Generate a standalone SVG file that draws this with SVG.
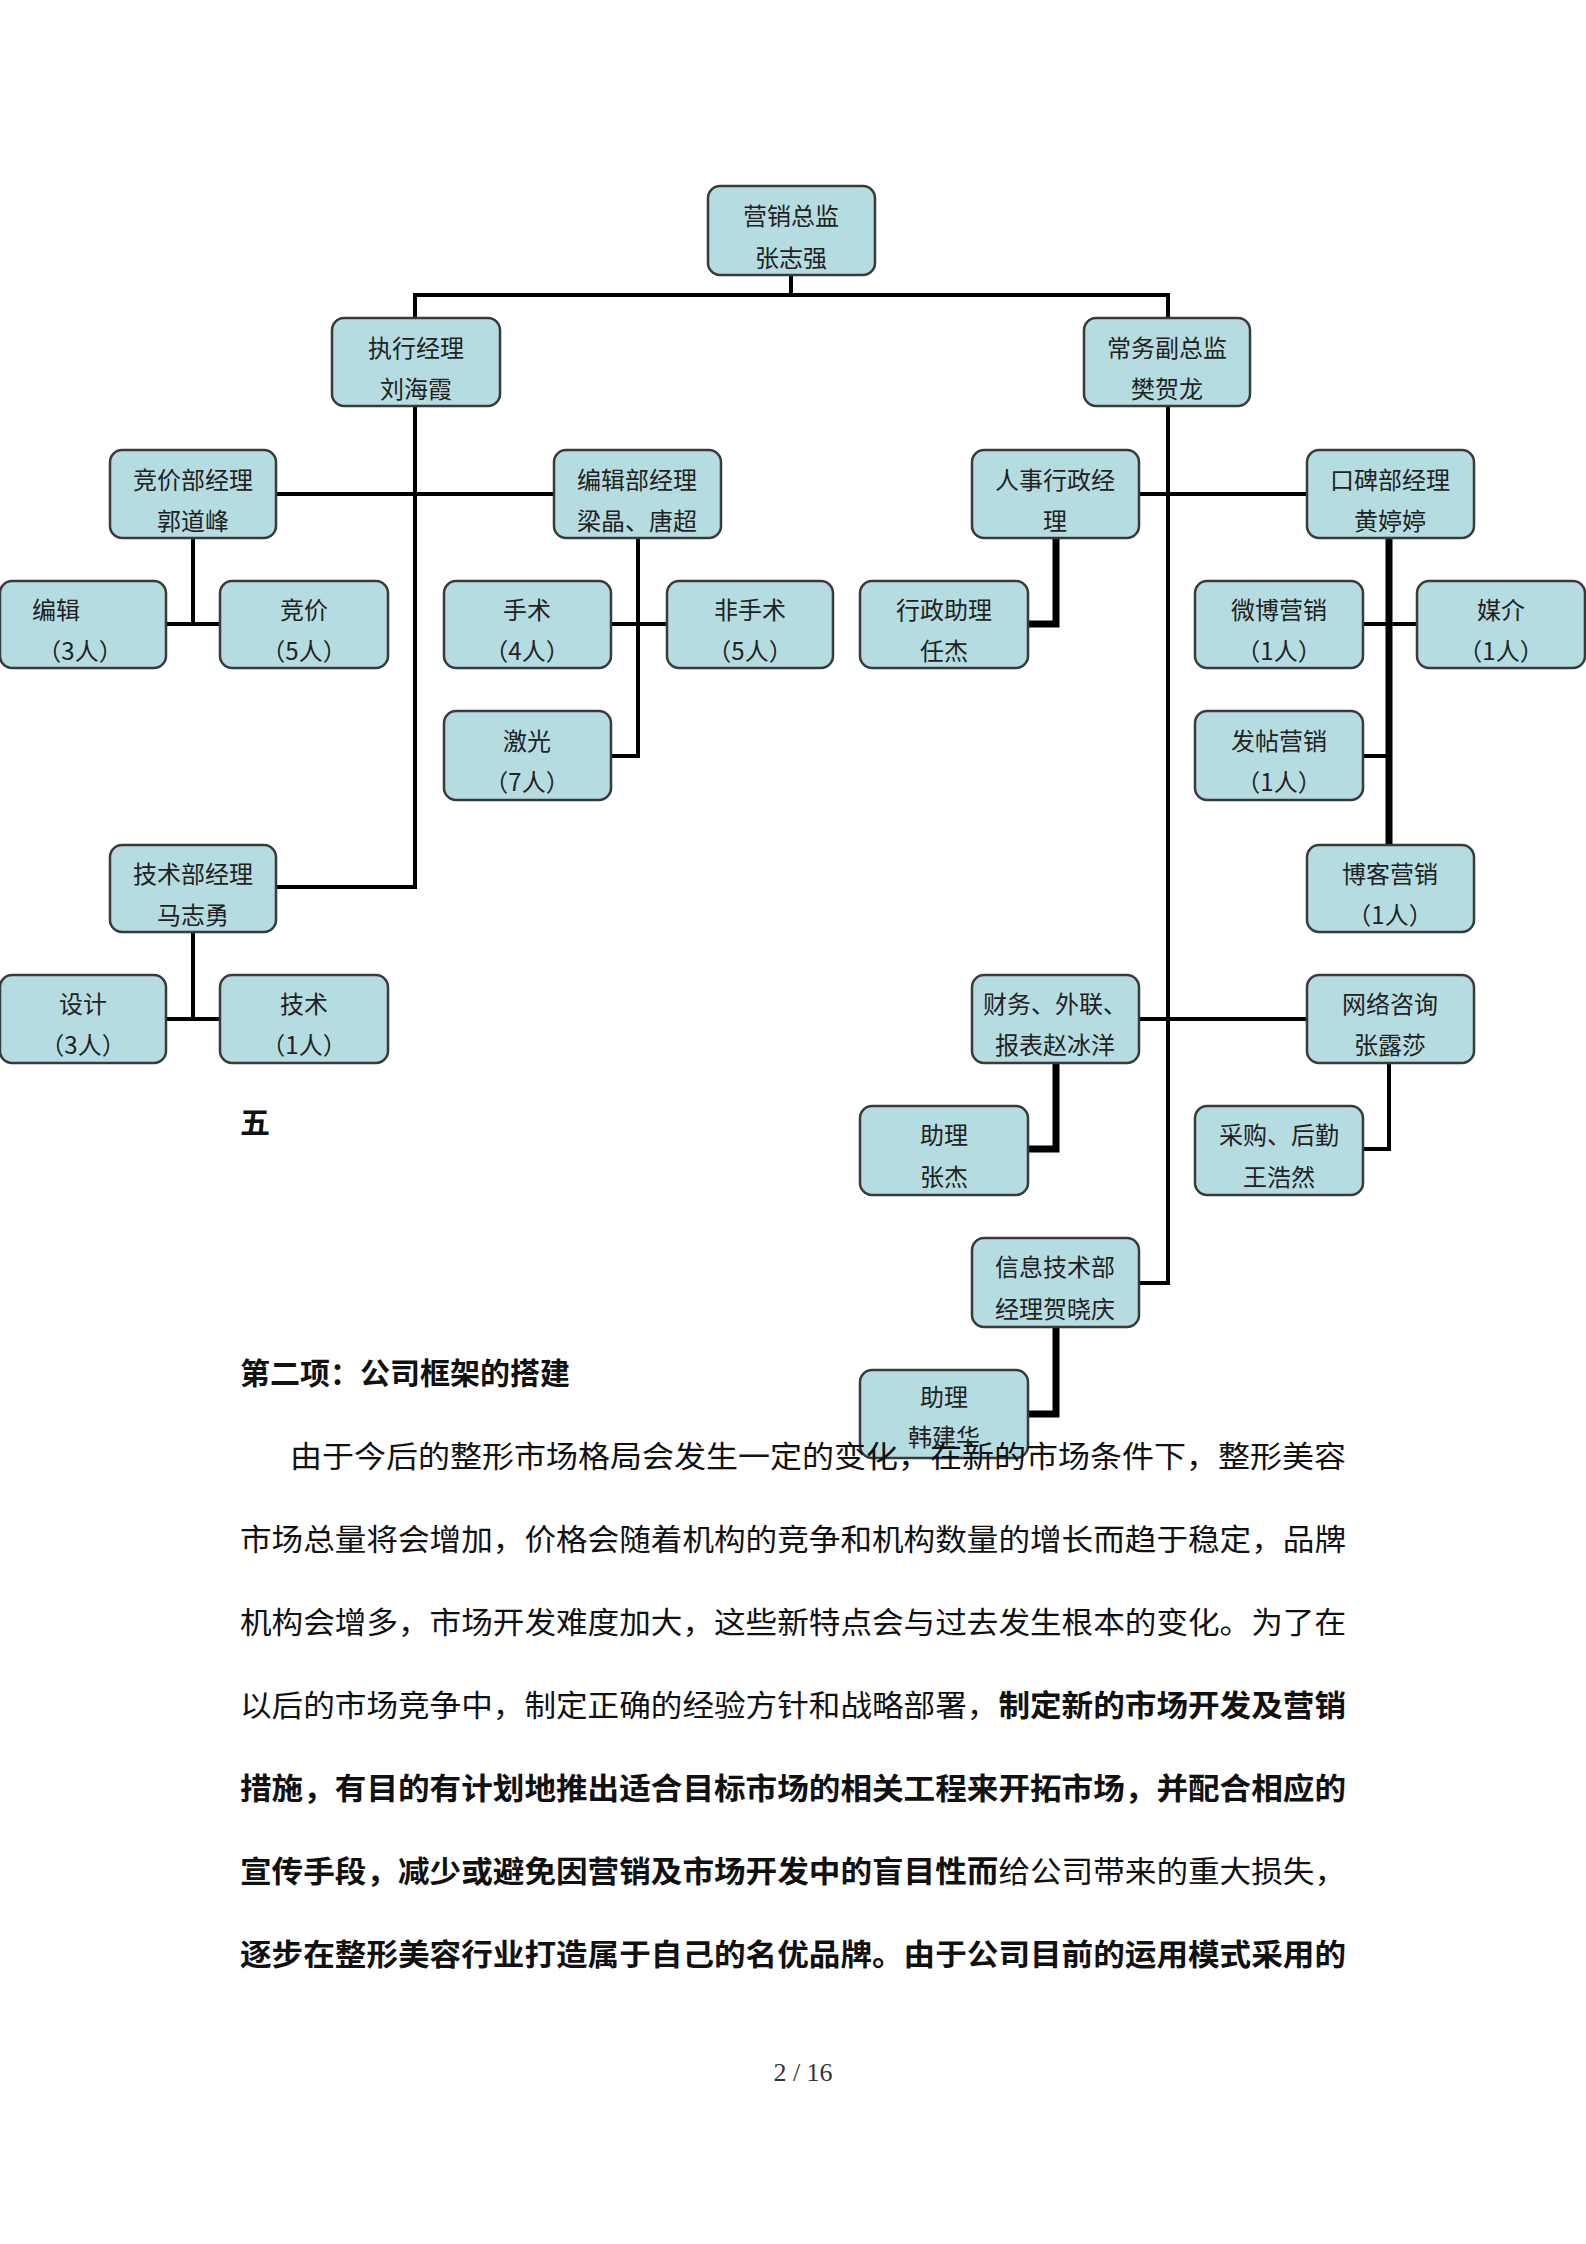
<svg xmlns="http://www.w3.org/2000/svg" width="1586" height="2244" viewBox="0 0 1586 2244">
<style>
.b{fill:#b5dde1;stroke:#3a3a3a;stroke-width:2.5}
.t{font-family:"Noto Sans CJK SC","Noto Sans",sans-serif;font-size:24px;fill:#222;text-anchor:middle}
.c{stroke:#000;stroke-width:4;fill:none}
.ck{stroke:#000;stroke-width:7;fill:none}
.p{font-family:"Noto Sans CJK SC","Noto Sans",sans-serif;font-size:30px;fill:#111}
.pb{font-weight:bold}
</style>
<rect width="1586" height="2244" fill="#fff"/>
<g id="connectors">
<path class="c" d="M791 275V295M415 318V295H1168V318"/>
<path class="c" d="M415 406V887H276"/>
<path class="c" d="M276 494H554"/>
<path class="c" d="M193 538V624M166 624H220"/>
<path class="c" d="M638 538V756H611M611 624H667"/>
<path class="c" d="M193 932V1019M166 1019H220"/>
<path class="c" d="M1168 406V1283H1139"/>
<path class="c" d="M1139 494H1307"/>
<path class="ck" d="M1056 538V624H1028"/>
<path class="ck" d="M1389 538V845"/>
<path class="c" d="M1363 624H1417M1363 756H1389"/>
<path class="c" d="M1139 1019H1307"/>
<path class="ck" d="M1056 1063V1149H1028"/>
<path class="c" d="M1389 1063V1149H1363"/>
<path class="ck" d="M1056 1327V1414H1028"/>
</g>
<g id="n1"><rect class="b" x="708" y="186" width="167" height="89" rx="12"/><text class="t" x="791" y="225">营销总监</text><text class="t" x="791" y="267">张志强</text></g>
<g id="n2"><rect class="b" x="332" y="318" width="168" height="88" rx="12"/><text class="t" x="416" y="357">执行经理</text><text class="t" x="416" y="398">刘海霞</text></g>
<g id="n3"><rect class="b" x="1084" y="318" width="166" height="88" rx="12"/><text class="t" x="1167" y="357">常务副总监</text><text class="t" x="1167" y="398">樊贺龙</text></g>
<g id="n4"><rect class="b" x="110" y="450" width="166" height="88" rx="12"/><text class="t" x="193" y="489">竞价部经理</text><text class="t" x="193" y="530">郭道峰</text></g>
<g id="n5"><rect class="b" x="554" y="450" width="167" height="88" rx="12"/><text class="t" x="637" y="489">编辑部经理</text><text class="t" x="637" y="530">梁晶、唐超</text></g>
<g id="n6"><rect class="b" x="972" y="450" width="167" height="88" rx="12"/><text class="t" x="1055" y="489">人事行政经</text><text class="t" x="1055" y="530">理</text></g>
<g id="n7"><rect class="b" x="1307" y="450" width="167" height="88" rx="12"/><text class="t" x="1390" y="489">口碑部经理</text><text class="t" x="1390" y="530">黄婷婷</text></g>
<g id="n8"><rect class="b" x="0" y="581" width="166" height="87" rx="12"/><text class="t" x="56" y="619">编辑</text><text class="t" x="80" y="660">（3人）</text></g>
<g id="n9"><rect class="b" x="220" y="581" width="168" height="87" rx="12"/><text class="t" x="304" y="619">竞价</text><text class="t" x="304" y="660">（5人）</text></g>
<g id="n10"><rect class="b" x="444" y="581" width="167" height="87" rx="12"/><text class="t" x="527" y="619">手术</text><text class="t" x="527" y="660">（4人）</text></g>
<g id="n11"><rect class="b" x="667" y="581" width="166" height="87" rx="12"/><text class="t" x="750" y="619">非手术</text><text class="t" x="750" y="660">（5人）</text></g>
<g id="n12"><rect class="b" x="860" y="581" width="168" height="87" rx="12"/><text class="t" x="944" y="619">行政助理</text><text class="t" x="944" y="660">任杰</text></g>
<g id="n13"><rect class="b" x="1195" y="581" width="168" height="87" rx="12"/><text class="t" x="1279" y="619">微博营销</text><text class="t" x="1279" y="660">（1人）</text></g>
<g id="n14"><rect class="b" x="1417" y="581" width="168" height="87" rx="12"/><text class="t" x="1501" y="619">媒介</text><text class="t" x="1501" y="660">（1人）</text></g>
<g id="n15"><rect class="b" x="444" y="711" width="167" height="89" rx="12"/><text class="t" x="527" y="750">激光</text><text class="t" x="527" y="791">（7人）</text></g>
<g id="n16"><rect class="b" x="1195" y="711" width="168" height="89" rx="12"/><text class="t" x="1279" y="750">发帖营销</text><text class="t" x="1279" y="791">（1人）</text></g>
<g id="n17"><rect class="b" x="110" y="845" width="166" height="87" rx="12"/><text class="t" x="193" y="883">技术部经理</text><text class="t" x="193" y="924">马志勇</text></g>
<g id="n18"><rect class="b" x="1307" y="845" width="167" height="87" rx="12"/><text class="t" x="1390" y="883">博客营销</text><text class="t" x="1390" y="924">（1人）</text></g>
<g id="n19"><rect class="b" x="0" y="975" width="166" height="88" rx="12"/><text class="t" x="83" y="1013">设计</text><text class="t" x="83" y="1054">（3人）</text></g>
<g id="n20"><rect class="b" x="220" y="975" width="168" height="88" rx="12"/><text class="t" x="304" y="1013">技术</text><text class="t" x="304" y="1054">（1人）</text></g>
<g id="n21"><rect class="b" x="972" y="975" width="167" height="88" rx="12"/><text class="t" x="1055" y="1013">财务、外联、</text><text class="t" x="1055" y="1054">报表赵冰洋</text></g>
<g id="n22"><rect class="b" x="1307" y="975" width="167" height="88" rx="12"/><text class="t" x="1390" y="1013">网络咨询</text><text class="t" x="1390" y="1054">张露莎</text></g>
<g id="n23"><rect class="b" x="860" y="1106" width="168" height="89" rx="12"/><text class="t" x="944" y="1144">助理</text><text class="t" x="944" y="1186">张杰</text></g>
<g id="n24"><rect class="b" x="1195" y="1106" width="168" height="89" rx="12"/><text class="t" x="1279" y="1144">采购、后勤</text><text class="t" x="1279" y="1186">王浩然</text></g>
<g id="n25"><rect class="b" x="972" y="1238" width="167" height="89" rx="12"/><text class="t" x="1055" y="1276">信息技术部</text><text class="t" x="1055" y="1318">经理贺晓庆</text></g>
<text class="p pb" x="240" y="1133" font-size="28">五</text>
<text class="p pb" x="240" y="1384" font-size="29">第二项：公司框架的搭建</text>
<g id="n26"><rect class="b" x="860" y="1370" width="168" height="88" rx="12"/><text class="t" x="944" y="1406">助理</text><text class="t" x="944" y="1446">韩建华</text></g>
<text class="p" x="290" y="1467" textLength="1056" lengthAdjust="spacingAndGlyphs">由于今后的整形市场格局会发生一定的变化，在新的市场条件下，整形美容</text>
<text class="p" x="240" y="1550" textLength="1106" lengthAdjust="spacingAndGlyphs">市场总量将会增加，价格会随着机构的竞争和机构数量的增长而趋于稳定，品牌</text>
<text class="p" x="240" y="1633" textLength="1106" lengthAdjust="spacingAndGlyphs">机构会增多，市场开发难度加大，这些新特点会与过去发生根本的变化。为了在</text>
<text class="p" x="240" y="1716" textLength="1106" lengthAdjust="spacingAndGlyphs">以后的市场竞争中，制定正确的经验方针和战略部署，<tspan class="pb">制定新的市场开发及营销</tspan></text>
<text class="p pb" x="240" y="1799" textLength="1106" lengthAdjust="spacingAndGlyphs">措施，有目的有计划地推出适合目标市场的相关工程来开拓市场，并配合相应的</text>
<text class="p" x="240" y="1882" textLength="1106" lengthAdjust="spacingAndGlyphs"><tspan class="pb">宣传手段，减少或避免因营销及市场开发中的盲目性而</tspan>给公司带来的重大损失，</text>
<text class="p pb" x="240" y="1965" textLength="1106" lengthAdjust="spacingAndGlyphs">逐步在整形美容行业打造属于自己的名优品牌。由于公司目前的运用模式采用的</text>
<text x="803" y="2081" font-family="Liberation Serif,serif" font-size="26" fill="#333" text-anchor="middle">2 / 16</text>
</svg>
